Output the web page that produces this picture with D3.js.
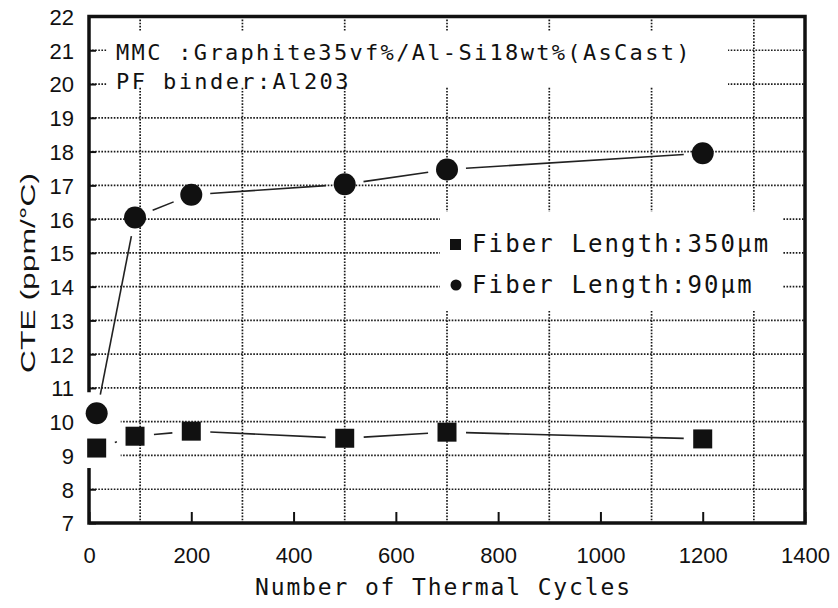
<!DOCTYPE html>
<html>
<head>
<meta charset="utf-8">
<script src="https://cdn.jsdelivr.net/npm/d3@7"></script>
<style>
  body { margin: 0; background: #fff; }
  svg { display: block; }
</style>
</head>
<body>
<div id="chart"></div>
<script>
// Data
const cycles = [15, 90, 200, 500, 700, 1200];
const cte350 = [9.22, 9.57, 9.72, 9.51, 9.69, 9.49];
const cte90 = [10.25, 16.05, 16.72, 17.03, 17.47, 17.95];
const xTicks = [0, 200, 400, 600, 800, 1000, 1200, 1400];
const xGrid = [100, 300, 500, 700, 900, 1100, 1300];
const yTicks = d3.range(7, 23);
const yGrid = d3.range(8, 22);
const notes = ["MMC :Graphite35vf%/Al-Si18wt%(AsCast)", "PF binder:Al203"];
const legendLabels = ["Fiber Length:350\u03bcm", "Fiber Length:90\u03bcm"];

const WIDTH = 838;
const HEIGHT = 608;
const INK = "#111";

const svg = d3
	.select("#chart")
	.append("svg")
	.attr("width", WIDTH)
	.attr("height", HEIGHT);

// Scales
const x = d3.scaleLinear().domain([0, 1400]).range([89, 805]);
const y = d3.scaleLinear().domain([7, 22]).range([523, 16.5]);

// Dotted grid
const grid = svg.append("g")
	.attr("stroke", "#1a1a1a")
	.attr("stroke-width", 1.7)
	.attr("stroke-dasharray", "1.6,1.5");

grid.selectAll(".hgrid")
	.data(yGrid)
	.enter()
	.append("line")
	.attr("x1", x(0))
	.attr("x2", x(1400))
	.attr("y1", (d) => y(d))
	.attr("y2", (d) => y(d));

grid.selectAll(".vgrid")
	.data(xGrid)
	.enter()
	.append("line")
	.attr("x1", (d) => x(d))
	.attr("x2", (d) => x(d))
	.attr("y1", y(22))
	.attr("y2", y(7));

// White boxes behind notes and legend
svg.append("rect")
	.attr("x", 107).attr("y", 31)
	.attr("width", 621).attr("height", 56)
	.attr("fill", "#fff");

svg.append("rect")
	.attr("x", 440).attr("y", 212)
	.attr("width", 342).attr("height", 98)
	.attr("fill", "#fff");

// Frame
svg.append("rect")
	.attr("x", x(0))
	.attr("y", y(22))
	.attr("width", x(1400) - x(0))
	.attr("height", y(7) - y(22))
	.attr("fill", "none")
	.attr("stroke", INK)
	.attr("stroke-width", 3.5);

// Axes (ticks pointing inward)
const xAxis = svg.append("g")
	.attr("transform", `translate(0,${y(7)})`)
	.call(d3.axisBottom(x).tickValues(xTicks).tickFormat(d3.format("d"))
		.tickSizeInner(-11).tickSizeOuter(0).tickPadding(24));

const yAxis = svg.append("g")
	.attr("transform", `translate(${x(0)},0)`)
	.call(d3.axisLeft(y).tickValues(yTicks).tickFormat(d3.format("d"))
		.tickSizeInner(-7).tickSizeOuter(0).tickPadding(15));

[xAxis, yAxis].forEach((ax) => {
	ax.select(".domain").remove();
	ax.selectAll(".tick line").attr("stroke", INK).attr("stroke-width", 2);
	ax.selectAll(".tick text")
		.attr("fill", INK)
		.style("font-family", "'Liberation Sans', Arial, sans-serif")
		.style("font-size", "22px");
});
yAxis.selectAll(".tick text").attr("dy", "0.36em");

// White patch where the first points cover the axis
svg.append("rect")
	.attr("x", x(cycles[0]) - 12)
	.attr("y", y(cte90[0]) - 21)
	.attr("width", 36)
	.attr("height", y(cte350[0]) - y(cte90[0]) + 41)
	.attr("fill", "#fff");

// Connecting lines, trimmed short of the markers
const GAP = 19;
function segments(values) {
	const pts = cycles.map((c, i) => [x(c), y(values[i])]);
	return d3.pairs(pts).map(([p, q]) => {
		const dx = q[0] - p[0];
		const dy = q[1] - p[1];
		const len = Math.hypot(dx, dy);
		const ux = dx / len;
		const uy = dy / len;
		return [p[0] + ux * GAP, p[1] + uy * GAP, q[0] - ux * GAP, q[1] - uy * GAP];
	});
}

[cte350, cte90].forEach((values) => {
	svg.append("g")
		.selectAll("line")
		.data(segments(values))
		.enter()
		.append("line")
		.attr("x1", (d) => d[0])
		.attr("y1", (d) => d[1])
		.attr("x2", (d) => d[2])
		.attr("y2", (d) => d[3])
		.attr("stroke", "#222")
		.attr("stroke-width", 1.6);
});

// Markers
const SQ = 19;
svg.append("g")
	.selectAll("rect")
	.data(cycles)
	.enter()
	.append("rect")
	.attr("x", (d) => x(d) - SQ / 2)
	.attr("y", (d, i) => y(cte350[i]) - SQ / 2)
	.attr("width", SQ)
	.attr("height", SQ)
	.attr("fill", INK);

svg.append("g")
	.selectAll("circle")
	.data(cycles)
	.enter()
	.append("circle")
	.attr("cx", (d) => x(d))
	.attr("cy", (d, i) => y(cte90[i]))
	.attr("r", 11)
	.attr("fill", INK);

// Notes
const mono = "'DejaVu Sans Mono', 'Liberation Mono', monospace";
svg.selectAll(".note")
	.data(notes)
	.enter()
	.append("text")
	.attr("class", "note")
	.attr("x", 116)
	.attr("y", (d, i) => 60 + i * 29)
	.attr("textLength", (d) => d.length * 15.5)
	.attr("lengthAdjust", "spacing")
	.attr("fill", INK)
	.style("font-family", mono)
	.style("font-size", "22px")
	.text((d) => d);

// Legend
const legend = svg.append("g");
legend.append("rect")
	.attr("x", 450).attr("y", 239)
	.attr("width", 11).attr("height", 11)
	.attr("fill", INK);
legend.append("circle")
	.attr("cx", 456).attr("cy", 285)
	.attr("r", 5.5)
	.attr("fill", INK);
legend.selectAll("text")
	.data(legendLabels)
	.enter()
	.append("text")
	.attr("x", 472)
	.attr("y", (d, i) => 252 + i * 41)
	.attr("textLength", (d) => d.length * 16.45)
	.attr("lengthAdjust", "spacing")
	.attr("fill", INK)
	.style("font-family", mono)
	.style("font-size", "24px")
	.text((d) => d);

// Axis titles
svg.append("text")
	.attr("x", 255)
	.attr("y", 595)
	.attr("textLength", 375)
	.attr("lengthAdjust", "spacing")
	.attr("fill", INK)
	.style("font-family", mono)
	.style("font-size", "23px")
	.text("Number of Thermal Cycles");

svg.append("text")
	.attr("transform", "translate(35,373) rotate(-90)")
	.attr("textLength", 200)
	.attr("lengthAdjust", "spacingAndGlyphs")
	.attr("fill", INK)
	.style("font-family", "'Liberation Sans', Arial, sans-serif")
	.style("font-size", "21px")
	.text("CTE (ppm/\u00b0C)");
</script>
</body>
</html>
